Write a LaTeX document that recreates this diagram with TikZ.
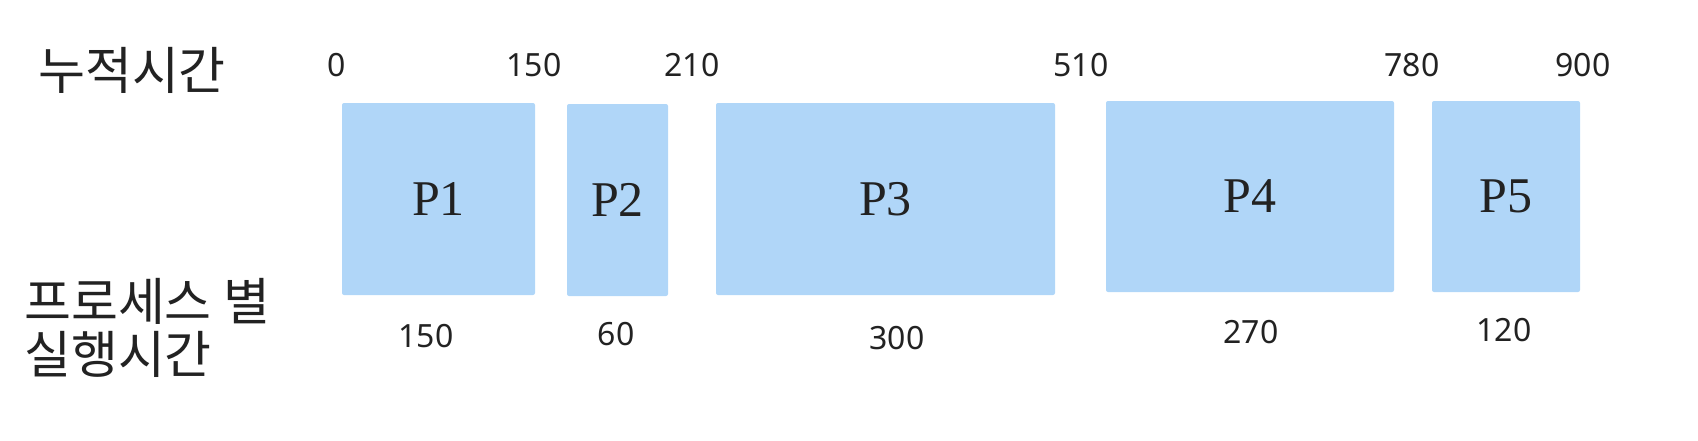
\documentclass[tikz,border=0pt]{standalone}
\usepackage{fontspec}
\setmainfont{Noto Sans}
\newfontfamily\kofont{Noto Sans CJK KR}
\newfontfamily\plfont{Liberation Serif}
\definecolor{boxblue}{HTML}{B0D6F8}
\definecolor{txt}{HTML}{222222}
\tikzset{
  pbox/.style={fill=boxblue, rounded corners=2pt, inner sep=0pt, text=txt,
    font=\plfont\fontsize{50}{50}\selectfont},
  tick/.style={text=txt, inner sep=0pt, font=\fontsize{32}{32}\selectfont},
  kolabel/.style={text=txt, inner sep=0pt, align=left, font=\kofont\fontsize{51}{53}\selectfont},
}
\begin{document}
\begin{tikzpicture}[x=1pt,y=-1pt]
\useasboundingbox (0,0) rectangle (1698,440);
% boxes
\node[pbox, minimum width=193pt, minimum height=192pt] (p1) at (438.5,199) {P1};
\node[pbox, minimum width=101pt, minimum height=192pt] (p2) at (617.5,200) {P2};
\node[pbox, minimum width=339pt, minimum height=192pt] (p3) at (885.5,199) {P3};
\node[pbox, minimum width=288pt, minimum height=191pt] (p4) at (1250,196.5) {P4};
\node[pbox, minimum width=148pt, minimum height=191pt] (p5) at (1506,196.5) {P5};
% cumulative times
\node[tick] (t0) at (337,65) {0};
\node[tick] (t1) at (534,65) {150};
\node[tick] (t2) at (692,65) {210};
\node[tick] (t3) at (1081,65) {510};
\node[tick] (t4) at (1412,65) {780};
\node[tick] (t5) at (1583,65) {900};
% burst times
\node[tick] (b1) at (426,336) {150};
\node[tick] (b2) at (616,334) {60};
\node[tick] (b3) at (897,338) {300};
\node[tick] (b4) at (1251,332) {270};
\node[tick] (b5) at (1504,330) {120};
% row labels
\node[kolabel, anchor=west] (cum) at (38,70) {누적시간};
\node[kolabel, anchor=north west] (burst) at (24,278) {프로세스 별\\실행시간};
\end{tikzpicture}
\end{document}
